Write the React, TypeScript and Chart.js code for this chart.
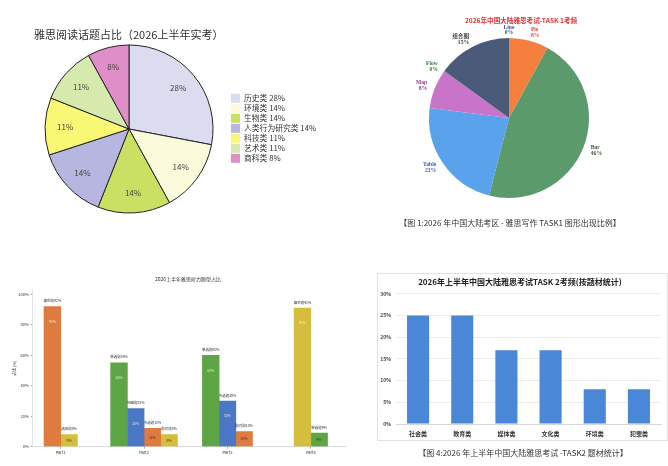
import React, { useEffect, useRef } from 'react';
import { Chart, registerables } from 'chart.js';

Chart.register(...registerables);

const SANS = '"Noto Sans CJK SC", "Noto Sans", sans-serif';
const SERIF = '"Liberation Serif", "Noto Sans CJK SC", serif';
Chart.defaults.font.family = SANS;

// ---- Panel 1: reading topics pie ----
const readingTitle = '雅思阅读话题占比（2026上半年实考）';
const readingTopics = ['历史类', '环境类', '生物类', '人类行为研究类', '科技类', '艺术类', '商科类'];
const readingShares = [28, 14, 14, 14, 11, 11, 8];
const readingColors = ['#dcdcf0', '#fbfbdc', '#c9e063', '#b6b6e0', '#f8f874', '#d6eaae', '#e08ec8'];

// ---- Panel 2: writing task 1 pie ----
const task1Title = '2026年中国大陆雅思考试-TASK 1考频';
const task1Caption = '【图 1:2026 年中国大陆考区 - 雅思写作 TASK1 图形出现比例】';
const task1Types = ['Line', 'Pie', 'Bar', 'Table', 'Map', 'Flow', '组合图'];
const task1Shares = [0, 8, 46, 23, 8, 0, 15];
const task1Colors = ['#4a6fc0', '#f5803e', '#5b9b6b', '#5aa2ec', '#c874c8', '#4f8f4f', '#4b5a78'];
const task1LabelColors = ['#3a4f9a', '#e04a3a', '#3d5a40', '#3a5ca8', '#9a3c9a', '#3a7a3a', '#444444'];

// ---- Panel 3: listening question types ----
const listeningTitle = '2026上半年雅思听力题型占比';
const listeningAxisTitle = '占比 (%)';
const listeningParts = ['Part1', 'Part2', 'Part3', 'Part4'];
const listeningTicks = [0, 20, 40, 60, 80, 100];
const listeningSlot1 = [92, 55, 60, 91];
const listeningSlot2 = [8, 25, 30, 9];
const listeningSlot3 = [null, 12, 10, null];
const listeningSlot4 = [null, 8, null, null];
const listeningSlot1Types = ['填空题', '单选题', '单选题', '填空题'];
const listeningSlot2Types = ['选择题', '地图题', '多选题', '单选题'];
const listeningSlot3Types = ['', '多选题', '配对题', ''];
const listeningSlot4Types = ['', '配对题', '', ''];
const ORANGE = '#e07b3f';
const GREEN = '#5ea546';
const BLUE = '#4a77c6';
const YELLOW = '#d5bd3e';
const listeningSlot1Colors = [ORANGE, GREEN, GREEN, YELLOW];
const listeningSlot2Colors = [YELLOW, BLUE, BLUE, GREEN];
const listeningSlot3Colors = [ORANGE, ORANGE, ORANGE, ORANGE];
const listeningSlot4Colors = [YELLOW, YELLOW, YELLOW, YELLOW];

// ---- Panel 4: writing task 2 topics ----
const task2Title = '2026年上半年中国大陆雅思考试TASK 2考频(按题材统计)';
const task2Caption = '【图 4:2026 年上半年中国大陆雅思考试 -TASK2 题材统计】';
const task2Topics = ['社会类', '教育类', '媒体类', '文化类', '环境类', '犯罪类'];
const task2Shares = [25, 25, 17, 17, 8, 8];

const base = { responsive: false, animation: false as const };
const noPlugins = { legend: { display: false }, tooltip: { enabled: false }, title: { display: false } };

function readingConfig(): any {
  return {
    type: 'pie',
    data: {
      labels: readingTopics,
      datasets: [{ data: readingShares, backgroundColor: readingColors, borderColor: '#222', borderWidth: 1, radius: 84 }],
    },
    options: { ...base, layout: { padding: { left: 45, top: 45, right: 121, bottom: 27 } }, plugins: noPlugins },
    plugins: [{
      id: 'readingDecor',
      afterDraw(chart: any) {
        const ctx = chart.ctx;
        ctx.save();
        ctx.fillStyle = '#333';
        ctx.font = `11px ${SANS}`;
        ctx.textAlign = 'left';
        ctx.textBaseline = 'middle';
        ctx.fillText(readingTitle, 34, 35);
        const meta = chart.getDatasetMeta(0);
        ctx.font = `8px ${SANS}`;
        ctx.textAlign = 'center';
        ctx.fillStyle = '#444';
        meta.data.forEach((arc: any, i: number) => {
          const p = arc.getProps(['x', 'y', 'startAngle', 'endAngle', 'outerRadius'], true);
          const mid = (p.startAngle + p.endAngle) / 2;
          const d = p.outerRadius * 0.76;
          ctx.fillText(readingShares[i] + '%', p.x + Math.cos(mid) * d, p.y + Math.sin(mid) * d);
        });
        readingTopics.forEach((t, i) => {
          const yy = 98.3 + i * 10;
          ctx.fillStyle = readingColors[i];
          ctx.fillRect(231, yy - 4.5, 9, 9);
          ctx.fillStyle = '#333';
          ctx.textAlign = 'left';
          ctx.font = `7.8px ${SANS}`;
          ctx.fillText(`${t} ${readingShares[i]}%`, 244, yy);
        });
        ctx.restore();
      },
    }],
  };
}

function task1Config(): any {
  return {
    type: 'pie',
    data: {
      labels: task1Types,
      datasets: [{ data: task1Shares, backgroundColor: task1Colors, borderWidth: 0, radius: 80 }],
    },
    options: { ...base, layout: { padding: { left: 95, top: 38, right: 79, bottom: 42 } }, plugins: noPlugins },
    plugins: [{
      id: 'task1Decor',
      afterDraw(chart: any) {
        const ctx = chart.ctx;
        ctx.save();
        ctx.textAlign = 'center';
        ctx.textBaseline = 'middle';
        ctx.fillStyle = '#e8312f';
        ctx.font = `bold 6.6px ${SANS}`;
        ctx.fillText(task1Title, 187, 20);
        const meta = chart.getDatasetMeta(0);
        meta.data.forEach((arc: any, i: number) => {
          const p = arc.getProps(['x', 'y', 'startAngle', 'endAngle', 'outerRadius'], true);
          const mid = (p.startAngle + p.endAngle) / 2;
          const d = p.outerRadius * 1.1;
          const c = Math.cos(mid);
          const cx = p.x + c * d;
          const cy = p.y + Math.sin(mid) * d;
          ctx.textAlign = Math.abs(c) < 0.1 ? 'center' : c > 0 ? 'left' : 'right';
          ctx.fillStyle = task1LabelColors[i];
          ctx.font = `bold 5.6px ${SERIF}`;
          ctx.fillText(task1Types[i], cx, cy - 2.9);
          ctx.fillText(task1Shares[i] + '%', cx, cy + 3);
        });
        ctx.textAlign = 'center';
        ctx.fillStyle = '#333';
        ctx.font = `8px ${SANS}`;
        ctx.fillText(task1Caption, 176, 223);
        ctx.restore();
      },
    }],
  };
}

const listeningSlots = [listeningSlot1, listeningSlot2, listeningSlot3, listeningSlot4];
const listeningSlotTypes = [listeningSlot1Types, listeningSlot2Types, listeningSlot3Types, listeningSlot4Types];
const listeningSlotColors = [listeningSlot1Colors, listeningSlot2Colors, listeningSlot3Colors, listeningSlot4Colors];

function listeningConfig(): any {
  return {
    type: 'bar',
    data: {
      datasets: listeningSlots.map((vals, k) => ({
        label: 'slot' + (k + 1),
        data: vals.map((v, i) => ({ x: i, y: v })),
        backgroundColor: listeningSlotColors[k],
        skipNull: true,
        barThickness: 16.7,
        borderWidth: 0,
      })),
    },
    options: {
      ...base,
      layout: { padding: { left: 0, top: 29.7, right: 15, bottom: 0 } },
      plugins: noPlugins,
      scales: {
        x: {
          type: 'linear', min: -0.336, max: 3.41, offset: false,
          afterBuildTicks: (axis: any) => { axis.ticks = listeningParts.map((_, i) => ({ value: i })); },
          ticks: { callback: (v: any) => listeningParts[v] ?? '', font: { size: 4 }, color: '#333', padding: 1, maxRotation: 0, autoSkip: false },
          grid: { display: true, drawOnChartArea: false, tickLength: 2, color: '#aaa', offset: false },
          border: { color: '#cfcfcf', width: 0.8 },
          afterFit: (s: any) => { s.height = 19.3; },
        },
        y: {
          min: 0, max: 103,
          afterBuildTicks: (axis: any) => { axis.ticks = listeningTicks.map((v) => ({ value: v })); },
          ticks: { callback: (v: any) => v + '%', font: { size: 4 }, color: '#333', padding: 2 },
          grid: { drawOnChartArea: false, tickLength: 2, color: '#aaa' },
          border: { color: '#dcdcdc', width: 0.8 },
          title: { display: true, text: listeningAxisTitle, font: { size: 4 }, color: '#333', padding: { top: 11.6, bottom: 0 } },
          afterFit: (s: any) => { s.width = 32.7; },
        },
      },
    },
    plugins: [{
      id: 'listeningDecor',
      afterDraw(chart: any) {
        const ctx = chart.ctx;
        ctx.save();
        ctx.textAlign = 'center';
        ctx.textBaseline = 'middle';
        ctx.fillStyle = '#333';
        ctx.font = `5px ${SANS}`;
        ctx.fillText(listeningTitle, 188, 19);
        chart.data.datasets.forEach((_: any, k: number) => {
          const meta = chart.getDatasetMeta(k);
          meta.data.forEach((bar: any, i: number) => {
            const v = listeningSlots[k][i];
            if (v == null) return;
            const p = bar.getProps(['x', 'y', 'base'], true);
            ctx.font = `3.5px ${SANS}`;
            ctx.fillStyle = '#333';
            ctx.fillText(`${listeningSlotTypes[k][i]}${v}%`, p.x, p.y - 5.7);
            if (v >= 20) {
              ctx.fillStyle = 'rgba(255,255,255,0.75)';
              ctx.fillText(v + '%', p.x, p.y + 15);
            } else {
              ctx.fillStyle = '#333';
              ctx.fillText(v + '%', p.x, (p.y + p.base) / 2);
            }
          });
        });
        ctx.restore();
      },
    }],
  };
}

function task2Config(): any {
  return {
    type: 'bar',
    data: {
      labels: task2Topics,
      datasets: [{ data: task2Shares, backgroundColor: '#4a87d7', borderWidth: 0, categoryPercentage: 1, barPercentage: 0.5 }],
    },
    options: {
      ...base,
      layout: { padding: { left: 0, top: 33.7, right: 7, bottom: 0 } },
      plugins: noPlugins,
      scales: {
        x: {
          grid: { display: false, drawTicks: false },
          border: { color: '#d6d6d6', width: 1 },
          ticks: { font: { size: 6, weight: 'bold' }, color: '#333', padding: 6, maxRotation: 0 },
          afterFit: (s: any) => { s.height = 42; },
        },
        y: {
          min: 0, max: 30,
          ticks: { stepSize: 5, callback: (v: any) => v + '%', font: { size: 5, weight: 'bold' }, color: '#444', padding: 5 },
          grid: { color: '#ececec', drawTicks: false },
          border: { display: false },
          afterFit: (s: any) => { s.width = 36; },
        },
      },
    },
    plugins: [{
      id: 'task2Decor',
      beforeDraw(chart: any) {
        const ctx = chart.ctx;
        ctx.save();
        ctx.strokeStyle = '#e2e2e2';
        ctx.lineWidth = 1;
        ctx.strokeRect(17.5, 13.5, 290, 167);
        ctx.restore();
      },
      afterDraw(chart: any) {
        const ctx = chart.ctx;
        ctx.save();
        ctx.textAlign = 'center';
        ctx.textBaseline = 'middle';
        ctx.fillStyle = '#222';
        ctx.font = `bold 8px ${SANS}`;
        ctx.fillText(task2Title, 160, 22);
        ctx.fillStyle = '#333';
        ctx.font = `8px ${SANS}`;
        ctx.fillText(task2Caption, 163, 193);
        ctx.restore();
      },
    }],
  };
}

function ChartCanvas({ left, top, width, height, make }: any) {
  const ref = useRef<HTMLCanvasElement | null>(null);
  useEffect(() => {
    const chart = new Chart(ref.current as HTMLCanvasElement, make());
    return () => chart.destroy();
  }, []);
  return (
    <canvas ref={ref} width={width} height={height}
      style={{ position: 'absolute', left, top, width, height, display: 'block' }} />
  );
}

export default function App() {
  return (
    <div style={{ position: 'absolute', left: 0, top: 0, width: 668, height: 466, background: '#fff', overflow: 'hidden' }}>
      <ChartCanvas left={0} top={0} width={334} height={240} make={readingConfig} />
      <ChartCanvas left={334} top={0} width={334} height={240} make={task1Config} />
      <ChartCanvas left={0} top={260} width={360} height={206} make={listeningConfig} />
      <ChartCanvas left={360} top={260} width={308} height={206} make={task2Config} />
    </div>
  );
}
